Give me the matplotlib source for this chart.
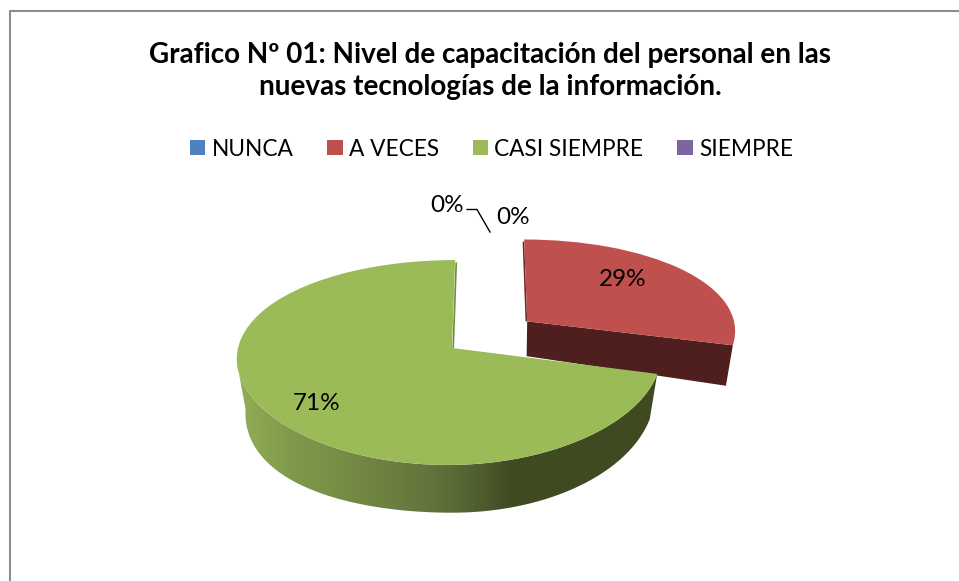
import numpy as np
import matplotlib
matplotlib.use("Agg")
import matplotlib.pyplot as plt
from matplotlib.patches import Polygon
from matplotlib.transforms import Transform
from matplotlib.colors import LinearSegmentedColormap

# ---- data ----
categories = ["NUNCA", "A VECES", "CASI SIEMPRE", "SIEMPRE"]
values = [0, 29, 71, 0]
explode = [0, 0.45, 0, 0]
colors = ["#4F81BD", "#C0504D", "#9BBB59", "#8064A2"]
title = "Grafico Nº 01: Nivel de capacitación del personal en las\nnuevas tecnologías de la información."

plt.rcParams["font.family"] = ["Lato", "DejaVu Sans"]

W, H = 959, 581
fig = plt.figure(figsize=(W / 100, H / 100), dpi=100, facecolor="white")
ax = fig.add_axes([0, 0, 1, 1])

# ---- perspective projection of the pie's unit plane onto the page ----
X0, A, C = 490.0, 214.0, -38.0
K_X = 0.09
Y_TOP, B_TOP, K_TOP = 348.0, 100.4, 0.1415
Y_BOT, B_BOT, K_BOT = 389.0, 120.0, 0.03
S_BOT = 0.97
TILT = 20.0


def project(uv, center, stretch, bottom=False):
    uv = np.asarray(uv, float)
    u, v = uv[:, 0], uv[:, 1]
    du = u - center[0]
    du = np.where(du > 0, du * stretch, du)   # right-hand side is a little narrower
    X = A * center[0] + A * du + C
    if bottom:
        left = np.minimum(u, 0.0)
        return np.column_stack([X0 + S_BOT * X / (1 + K_BOT * v),
                                Y_BOT - B_BOT * v / (1 + K_BOT * v) + TILT * left ** 2])
    return np.column_stack([X0 + X / (1 + K_X * v),
                            Y_TOP - B_TOP * v / (1 + K_TOP * v)])


class PieProjection(Transform):
    input_dims = output_dims = 2
    is_separable = False
    has_inverse = False

    def __init__(self, center, stretch):
        super().__init__()
        self.center, self.stretch = center, stretch

    def transform_non_affine(self, values):
        return project(values, self.center, self.stretch)


wedges, _ = ax.pie(values, explode=explode, colors=colors, startangle=90,
                   counterclock=False, radius=1.0, wedgeprops=dict(linewidth=0))
ax.set_aspect("auto")
stretches = {1: 212 / 214, 2: 208 / 214}
for i, w in enumerate(wedges):
    w.set_transform(PieProjection(w.center, stretches.get(i, 1.0)) + ax.transData)
    w.set_zorder(4)


def arc(w, t0, t1, n=200):
    t = np.radians(np.linspace(t0, t1, n))
    return np.column_stack([w.center[0] + np.cos(t), w.center[1] + np.sin(t)])


# green outer wall with horizontal shading
green = wedges[2]
s_g = stretches[2]
wall = np.vstack([project(arc(green, green.theta2, -172), green.center, s_g),
                  project(arc(green, -180, green.theta2), green.center, s_g, bottom=True)])
wall_patch = Polygon(wall, closed=True, facecolor="none", edgecolor="none")
ax.add_patch(wall_patch)
cmap = LinearSegmentedColormap.from_list("wall", [
    (0.00, "#93AE55"), (0.13, "#7F9A4B"), (0.39, "#6A7D3F"),
    (0.50, "#5C6E38"), (0.58, "#4E5C2E"), (0.65, "#3F4A21"), (1.00, "#3F4A21")])
im = ax.imshow(np.linspace(0, 1, 256)[None, :], cmap=cmap, aspect="auto",
               extent=(236, 660, 525, 340), zorder=2)
im.set_clip_path(wall_patch)

# red cut face
red = wedges[1]
s_r = stretches[1]
cut = np.vstack([red.center, arc(red, red.theta1, red.theta1, 1)])
face = np.vstack([project(cut, red.center, s_r),
                  project(cut, red.center, s_r, bottom=True)[::-1]])
ax.add_patch(Polygon(face, closed=True, facecolor="#4F1F1F", edgecolor="none", zorder=3))

# thin inner slivers along the edges at the top of the pie
for w, s, dx, col in [(green, s_g, 1.2, "#6F8A3C"), (red, s_r, -0.8, "#6B2A2A")]:
    e = np.vstack([w.center, [w.center[0], w.center[1] + 0.97]])
    p = project(e, w.center, s)
    ax.plot(p[:, 0] + dx, p[:, 1], color=col, lw=1.2, zorder=3, solid_capstyle="butt")

ax.set_xlim(0, W)
ax.set_ylim(H, 0)
ax.axis("off")

# chart border
ax.plot([10, 10, W], [H, 10.5, 10.5], color="#8C8C8C", lw=1.5, zorder=1)

# title
ax.text(490, 71, title, ha="center", va="center", fontsize=20.1, fontweight="bold",
        color="black", linespacing=1.32, zorder=6)

# legend
leg = ax.legend(wedges, categories, loc="center", bbox_to_anchor=(491.5 / W, 1 - 149 / H),
                ncols=4, frameon=False, fontsize=16.3, handlelength=0.67, handleheight=0.63,
                handletextpad=0.28, columnspacing=1.5, borderpad=0)

# data labels
ax.text(623, 280, f"{values[1]}%", ha="center", va="center", fontsize=17.5, zorder=6)
ax.text(317, 403, f"{values[2]}%", ha="center", va="center", fontsize=17.5, zorder=6)
ax.text(447, 205, f"{values[3]}%", ha="center", va="center", fontsize=17.5, zorder=6)
ax.text(513, 218, f"{values[0]}%", ha="center", va="center", fontsize=17.5, zorder=6)
ax.plot([467, 477, 490], [209.5, 209.5, 232], color="black", lw=1, zorder=6)

fig.savefig("out.png", dpi=100, facecolor="white")
